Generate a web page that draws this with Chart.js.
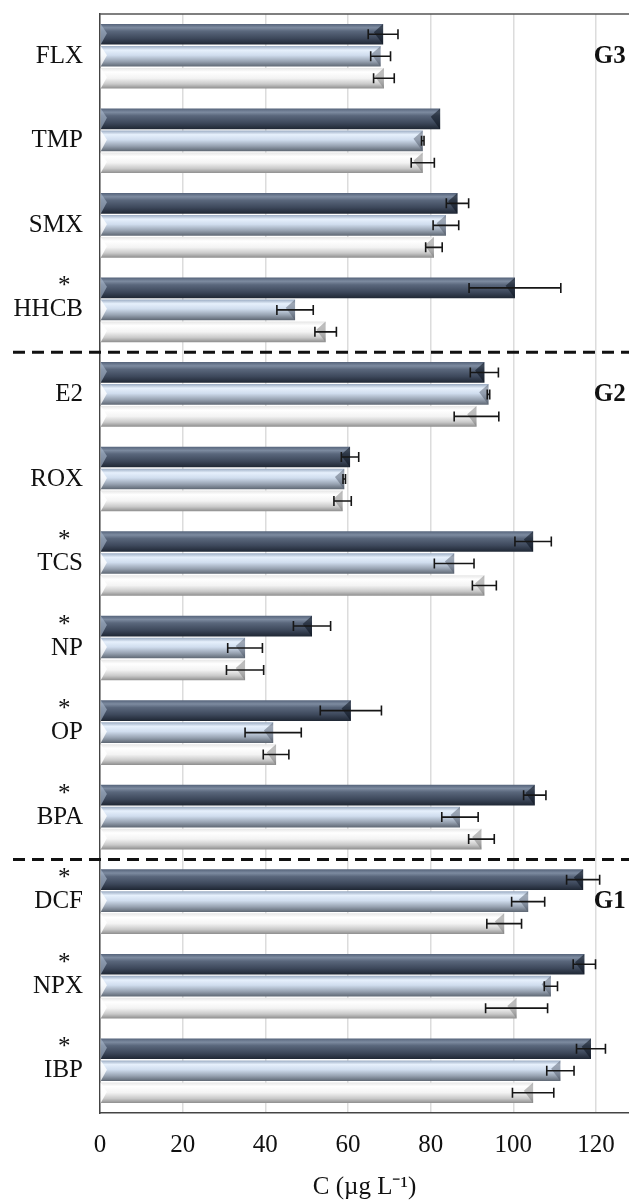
<!DOCTYPE html>
<html lang="en">
<head>
    <meta charset="UTF-8">
    <script src="https://cdn.jsdelivr.net/npm/chart.js@4.4.1/dist/chart.umd.min.js"></script>
    <title>C by compound</title>
    <style>
        body { margin: 0; background: #fff; }
    </style>
</head>
<body>

    <canvas id="myChart" width="629" height="1200"></canvas>

    <script>
        // compounds, top to bottom
        const labels = ['FLX', 'TMP', 'SMX', 'HHCB', 'E2', 'ROX', 'TCS', 'NP', 'OP', 'BPA', 'DCF', 'NPX', 'IBP'];
        const marked = [false, false, false, true, false, false, true, true, true, true, true, true, true];

        // three series (dark, mid, light) with +/- error
        const seriesA = [68.5, 82.3, 86.5, 100.4, 93.0, 60.5, 104.8, 51.3, 60.7, 105.2, 116.9, 117.2, 118.8];
        const errA    = [3.6, 0, 2.7, 11.1, 3.4, 2.1, 4.4, 4.5, 7.4, 2.7, 4.0, 2.7, 3.5];
        const seriesB = [67.9, 78.1, 83.7, 47.2, 94.0, 59.1, 85.7, 35.1, 41.9, 87.1, 103.6, 109.1, 111.4];
        const errB    = [2.4, 0.3, 3.1, 4.4, 0.3, 0.3, 4.8, 4.2, 6.8, 4.4, 4.0, 1.6, 3.3];
        const seriesC = [68.7, 78.1, 80.8, 54.6, 91.1, 58.7, 93.0, 35.1, 42.6, 92.3, 97.8, 100.8, 104.8];
        const errC    = [2.5, 2.8, 2.0, 2.6, 5.4, 2.1, 2.9, 4.5, 3.1, 3.1, 4.2, 7.5, 5.0];

        // group separators (after these indexes) and group tags
        const splitAfter = [3, 9];
        const groupTags = [{ text: 'G3', at: 0 }, { text: 'G2', at: 4 }, { text: 'G1', at: 10 }];

        const xTicks = [0, 20, 40, 60, 80, 100, 120];

        const CAT_PCT = 0.78;
        const BAR_PCT = 0.94;
        const serif = "'Liberation Serif', 'Times New Roman', serif";

        const shades = [
            [[0, '#55637a'], [0.18, '#7d8ba0'], [0.35, '#5a677c'], [0.7, '#3d485b'], [1, '#1f2734']],
            [[0, '#9aabc2'], [0.2, '#e6f0fc'], [0.45, '#d0ddee'], [0.75, '#97a2b1'], [1, '#5e6773']],
            [[0, '#e6e6e6'], [0.2, '#ffffff'], [0.5, '#f3f3f3'], [0.78, '#c9c9c9'], [1, '#8e8e8e']]
        ];
        const endShade = ['rgba(10,16,28,0.55)', 'rgba(70,80,95,0.45)', 'rgba(110,110,110,0.45)'];
        const startShade = ['rgba(170,185,205,0.6)', 'rgba(255,255,255,0.8)', 'rgba(255,255,255,0.9)'];

        const barFill = (k) => (c) => {
            const chart = c.chart;
            const ys = chart.scales.y;
            if (!ys || c.type !== 'data') return shades[k][2][1];
            const cw = (ys.bottom - ys.top) / labels.length;
            const slot = cw * CAT_PCT / 3;
            const top = ys.getPixelForValue(c.dataIndex) - cw * CAT_PCT / 2 + c.datasetIndex * slot + slot * (1 - BAR_PCT) / 2;
            const h = slot * BAR_PCT;
            if (!isFinite(top) || !isFinite(h) || h <= 0) return shades[k][2][1];
            const g = chart.ctx.createLinearGradient(0, top, 0, top + h);
            shades[k].forEach(s => g.addColorStop(s[0], s[1]));
            return g;
        };

        const errors = [errA, errB, errC];

        const barTrim = {
            id: 'barTrim',
            afterDatasetsDraw(chart) {
                const ctx = chart.ctx;
                const xs = chart.scales.x;
                ctx.save();
                chart.data.datasets.forEach((ds, k) => {
                    const meta = chart.getDatasetMeta(k);
                    meta.data.forEach((bar, i) => {
                        const p = bar.getProps(['x', 'y', 'base', 'height'], true);
                        const h = p.height;
                        // bevelled ends
                        ctx.fillStyle = endShade[k];
                        ctx.beginPath();
                        ctx.moveTo(p.x, p.y - h / 2);
                        ctx.lineTo(p.x - h * 0.45, p.y - h * 0.1);
                        ctx.lineTo(p.x, p.y + h / 2);
                        ctx.closePath();
                        ctx.fill();
                        ctx.fillStyle = startShade[k];
                        ctx.beginPath();
                        ctx.moveTo(p.base, p.y - h / 2);
                        ctx.lineTo(p.base + h * 0.3, p.y - h * 0.05);
                        ctx.lineTo(p.base, p.y + h / 2);
                        ctx.closePath();
                        ctx.fill();
                    });
                });
                // error bars
                ctx.strokeStyle = '#161616';
                ctx.lineWidth = 1.6;
                chart.data.datasets.forEach((ds, k) => {
                    const meta = chart.getDatasetMeta(k);
                    meta.data.forEach((bar, i) => {
                        const e = errors[k][i];
                        if (!e) return;
                        const y = bar.getProps(['y'], true).y;
                        const lo = xs.getPixelForValue(ds.data[i] - e);
                        const hi = xs.getPixelForValue(ds.data[i] + e);
                        ctx.beginPath();
                        ctx.moveTo(lo, y); ctx.lineTo(hi, y);
                        ctx.moveTo(lo, y - 5); ctx.lineTo(lo, y + 5);
                        ctx.moveTo(hi, y - 5); ctx.lineTo(hi, y + 5);
                        ctx.stroke();
                    });
                });
                ctx.restore();
            },
            afterDraw(chart) {
                const ctx = chart.ctx;
                const a = chart.chartArea;
                const ys = chart.scales.y;
                const xs = chart.scales.x;
                ctx.save();
                // top frame line
                ctx.strokeStyle = '#555';
                ctx.lineWidth = 1.5;
                ctx.beginPath();
                ctx.moveTo(a.left, a.top);
                ctx.lineTo(chart.width, a.top);
                ctx.stroke();
                // dashed group separators
                ctx.strokeStyle = '#111';
                ctx.lineWidth = 3;
                ctx.setLineDash([12, 7]);
                splitAfter.forEach(i => {
                    const y = (ys.getPixelForValue(i) + ys.getPixelForValue(i + 1)) / 2;
                    ctx.beginPath();
                    ctx.moveTo(13, y);
                    ctx.lineTo(chart.width, y);
                    ctx.stroke();
                });
                ctx.setLineDash([]);
                // group tags
                ctx.fillStyle = '#111';
                ctx.font = 'bold 25px ' + serif;
                ctx.textBaseline = 'middle';
                ctx.textAlign = 'left';
                groupTags.forEach(t => {
                    ctx.fillText(t.text, xs.getPixelForValue(119.5), ys.getPixelForValue(t.at));
                });
                ctx.restore();
            }
        };

        const ctx = document.getElementById('myChart').getContext('2d');

        new Chart(ctx, {
            type: 'bar',
            data: {
                labels: labels.map((l, i) => marked[i] ? ['*  ', l, ''] : l),
                datasets: [
                    { label: 'A', data: seriesA, backgroundColor: barFill(0) },
                    { label: 'B', data: seriesB, backgroundColor: barFill(1) },
                    { label: 'C', data: seriesC, backgroundColor: barFill(2) }
                ]
            },
            options: {
                indexAxis: 'y',
                responsive: false,
                animation: false,
                borderWidth: 0,
                categoryPercentage: CAT_PCT,
                barPercentage: BAR_PCT,
                layout: {
                    padding: { left: 0, right: 0, top: 14, bottom: 0 }
                },
                plugins: {
                    legend: { display: false },
                    tooltip: { enabled: false }
                },
                scales: {
                    x: {
                        min: 0,
                        max: 128,
                        afterBuildTicks: s => { s.ticks = xTicks.map(v => ({ value: v })); },
                        grid: { color: '#dcdcdc', lineWidth: 1.5, drawTicks: false },
                        border: { color: '#444', width: 1.5 },
                        ticks: {
                            padding: 17,
                            color: '#111',
                            font: { family: serif, size: 25 }
                        },
                        title: {
                            display: true,
                            text: 'C (\u00b5g L\u207b\u00b9)',
                            color: '#111',
                            padding: { top: 0, bottom: 0 },
                            font: { family: serif, size: 25, lineHeight: 1 }
                        },
                        afterFit: s => { s.height = 87; s.paddingLeft = 0; s.paddingRight = 0; }
                    },
                    y: {
                        grid: { display: false, drawTicks: false },
                        border: { color: '#444', width: 1.5 },
                        ticks: {
                            padding: 17,
                            color: '#111',
                            font: { family: serif, size: 25, lineHeight: 0.92 }
                        },
                        afterFit: s => { s.width = 100; s.paddingTop = 0; s.paddingBottom = 0; }
                    }
                }
            },
            plugins: [barTrim]
        });
    </script>

</body>
</html>
